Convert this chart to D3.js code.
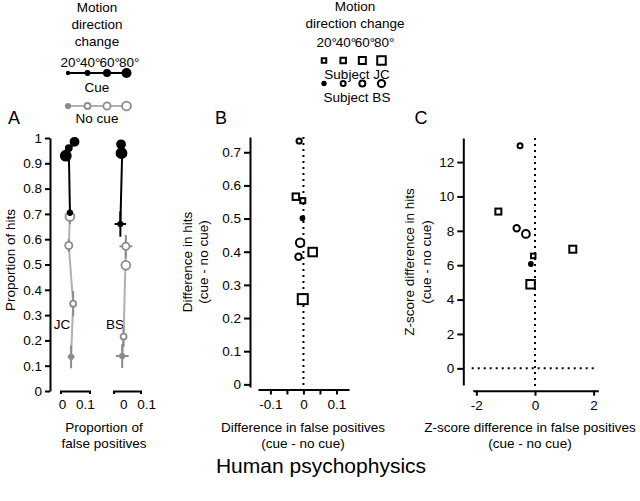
<!DOCTYPE html>
<html><head><meta charset="utf-8">
<script src="https://cdn.jsdelivr.net/npm/d3@7"></script>
<style>
body{margin:0;background:#fff}
text{font-family:"Liberation Sans",Arial,Helvetica,sans-serif;fill:#000}
</style>
</head><body>
<svg id="chart" width="640" height="501"></svg>
<script>
// ---------------- DATA ----------------
const degrees = [20, 40, 60, 80];
const degreeLabels = ["20°", "40°", "60°", "80°"];

// Panel A : proportion of false positives (x) and hits (y)
const jcCueFP = [0.035, 0.030, 0.055, 0.017];
const jcCueHit = [0.705, 0.960, 0.985, 0.930];
const jcCueFPErr = [0.012, 0.008, 0.008, 0.008];
const jcCueHitErr = [0.012, 0.010, 0.008, 0.012];
const jcNoCueFP = [0.040, 0.049, 0.030, 0.035];
const jcNoCueHit = [0.135, 0.345, 0.575, 0.690];
const jcNoCueFPErr = [0.015, 0.015, 0.010, 0.012];
const jcNoCueHitErr = [0.045, 0.050, 0.025, 0.030];

const bsCueFP = [-0.013, -0.005, -0.010, -0.008];
const bsCueHit = [0.660, 0.945, 0.975, 0.940];
const bsCueFPErr = [0.025, 0.008, 0.008, 0.008];
const bsCueHitErr = [0.050, 0.010, 0.008, 0.010];
const bsNoCueFP = [-0.005, 0.001, 0.011, 0.011];
const bsNoCueHit = [0.138, 0.215, 0.572, 0.497];
const bsNoCueFPErr = [0.028, 0.012, 0.028, 0.010];
const bsNoCueHitErr = [0.047, 0.040, 0.045, 0.020];

// Panel B : difference (cue - no cue)
const jcDiffFP = [-0.002, -0.023, 0.028, -0.002];
const jcDiffHit = [0.554, 0.566, 0.399, 0.257];
const bsDiffFP = [-0.003, -0.013, -0.015, -0.010];
const bsDiffHit = [0.501, 0.734, 0.385, 0.427];

// Panel C : z-score difference (cue - no cue)
const jcZFP = [-0.06, -1.25, 1.29, -0.15];
const jcZHit = [6.54, 9.12, 6.93, 4.89];
const bsZFP = [-0.14, -0.51, -0.625, -0.31];
const bsZHit = [6.07, 12.95, 8.15, 7.82];

// Tick values
const ticksAY = d3.range(0, 11).map(i => i / 10);
const ticksAX = [0, 0.1];
const ticksBY = [0, 0.1, 0.2, 0.3, 0.4, 0.5, 0.6, 0.7];
const ticksBX = [-0.1, -0.05, 0, 0.05, 0.1];
const labelsBX = [-0.1, 0, 0.1];
const ticksCY = [0, 2, 4, 6, 8, 10, 12];
const ticksCX = [-2, 0, 2];

// ---------------- STYLE ----------------
const FS = 13.5;
const BLACK = "#000";
const GREY_LINE = "#b0b0b0";
const GREY_MARK = "#8c8c8c";
const dotR = [2.2, 3.0, 4.0, 5.0];        // filled (cue) dot radii
const openR = [2.2, 3.0, 3.6, 4.4];       // open (no cue) circle radii
const legSq = [4.5, 5.5, 7, 8.5];         // legend squares
const legCirc = [1.7, 2.5, 3.0, 3.6];     // legend circles
const bSq = [5, 6.5, 8.5, 10];            // panel B squares
const bCirc = [1.9, 2.6, 3.2, 4.2];       // panel B circles
const cSq = [4.5, 6, 7, 8.5];             // panel C squares
const cCirc = [1.9, 2.5, 3.2, 3.9];       // panel C circles

const svg = d3.select("#chart");
svg.append("rect").attr("width", 640).attr("height", 501).attr("fill", "#fff");

function styleAxis(g) {
  g.selectAll("path.domain").attr("stroke", BLACK).attr("stroke-width", 2);
  g.selectAll(".tick line").attr("stroke", BLACK).attr("stroke-width", 2);
  g.selectAll(".tick text").attr("font-size", FS).attr("font-family", '"Liberation Sans",Arial,sans-serif').attr("fill", BLACK);
}
const fmt = d => (d === 0 ? "0" : d === 1 ? "1" : String(+d.toFixed(2)));
function label(g, x, y, t, size, rot) {
  const el = g.append("text").attr("text-anchor", "middle").attr("dominant-baseline", "central")
    .attr("font-size", size || FS).text(t);
  if (rot) el.attr("transform", `translate(${x},${y}) rotate(-90)`);
  else el.attr("x", x).attr("y", y);
  return el;
}

// ---------------- LEGEND LEFT ----------------
const legL = svg.append("g");
const legLX = d3.scalePoint().domain(degrees).range([68, 126.5]);
["Motion", "direction", "change"].forEach((t, i) => label(legL, 97, 7 + i * 17, t));
degrees.forEach((d, i) => legL.append("text").attr("x", legLX(d) - 7.5).attr("y", 62)
  .attr("dominant-baseline", "central").attr("font-size", FS).text(degreeLabels[i]));
legL.append("line").attr("x1", legLX(20)).attr("x2", legLX(80)).attr("y1", 73).attr("y2", 73)
  .attr("stroke", BLACK).attr("stroke-width", 2);
legL.selectAll("circle.cue").data(degrees).join("circle").attr("cx", d => legLX(d)).attr("cy", 73)
  .attr("r", (d, i) => dotR[i]).attr("fill", BLACK);
label(legL, 97, 87, "Cue");
legL.append("line").attr("x1", legLX(20)).attr("x2", legLX(80)).attr("y1", 106).attr("y2", 106)
  .attr("stroke", GREY_LINE).attr("stroke-width", 2);
legL.selectAll("circle.nc").data(degrees).join("circle").attr("class", "nc").attr("cx", d => legLX(d)).attr("cy", 106)
  .attr("r", (d, i) => openR[i]).attr("fill", (d, i) => i === 0 ? GREY_MARK : "#fff")
  .attr("stroke", GREY_MARK).attr("stroke-width", 1.8);
label(legL, 97, 118, "No cue");

// ---------------- LEGEND MIDDLE ----------------
const legM = svg.append("g");
const legMX = d3.scalePoint().domain(degrees).range([324, 381.5]);
label(legM, 355, 6, "Motion");
label(legM, 355, 23, "direction change");
degrees.forEach((d, i) => legM.append("text").attr("x", legMX(d) - 7.5).attr("y", 42)
  .attr("dominant-baseline", "central").attr("font-size", FS).text(degreeLabels[i]));
legM.selectAll("rect").data(degrees).join("rect")
  .attr("x", (d, i) => legMX(d) - legSq[i] / 2).attr("y", (d, i) => 60.5 - legSq[i] / 2)
  .attr("width", (d, i) => legSq[i]).attr("height", (d, i) => legSq[i])
  .attr("fill", "#fff").attr("stroke", BLACK).attr("stroke-width", 2);
label(legM, 357, 74.5, "Subject JC");
legM.selectAll("circle").data(degrees).join("circle").attr("cx", d => legMX(d)).attr("cy", 83.5)
  .attr("r", (d, i) => legCirc[i]).attr("fill", (d, i) => i === 0 ? BLACK : "#fff")
  .attr("stroke", BLACK).attr("stroke-width", 2);
label(legM, 357, 97, "Subject BS");

// ---------------- PANEL A ----------------
const A = svg.append("g");
label(A, 14, 118, "A", 18);
const yA = d3.scaleLinear().domain([0, 1]).range([391, 138]);
const xAjc = d3.scaleLinear().domain([-0.006, 0.12]).range([60.5, 89.5]);
const xAbs = d3.scaleLinear().domain([-0.043, 0.075]).range([113.5, 140.5]);

styleAxis(A.append("g").attr("transform", "translate(50,0)")
  .call(d3.axisLeft(yA).tickValues(ticksAY).tickFormat(fmt).tickSize(5).tickSizeOuter(0).tickPadding(3)));
[xAjc, xAbs].forEach(sx => {
  styleAxis(A.append("g").attr("transform", "translate(0,391)")
    .call(d3.axisBottom(sx).tickValues(ticksAX).tickFormat(fmt).tickSize(0).tickSizeOuter(3).tickPadding(8)));
});
label(A, 10, 260, "Proportion of hits", FS, true);
label(A, 104, 427, "Proportion of");
label(A, 104, 443, "false positives");
label(A, 62, 324, "JC");
label(A, 115, 324, "BS");

function drawSeries(sx, fp, hit, fpErr, hitErr, lineCol, markCol, filled, radii) {
  const pts = fp.map((f, i) => ({ x: sx(f), y: yA(hit[i]), ex: sx(f + fpErr[i]) - sx(f), ey: yA(hit[i] - hitErr[i]) - yA(hit[i]), r: radii[i], i }));
  A.append("path").datum(pts).attr("d", d3.line().x(d => d.x).y(d => d.y))
    .attr("fill", "none").attr("stroke", lineCol).attr("stroke-width", 2);
  const eb = A.append("g").attr("stroke", markCol).attr("stroke-width", 2);
  pts.forEach(p => {
    eb.append("line").attr("x1", p.x).attr("x2", p.x).attr("y1", p.y - p.ey).attr("y2", p.y + p.ey);
    eb.append("line").attr("x1", p.x - p.ex).attr("x2", p.x + p.ex).attr("y1", p.y).attr("y2", p.y);
  });
  A.append("g").selectAll("circle").data(pts).join("circle")
    .attr("cx", d => d.x).attr("cy", d => d.y).attr("r", d => d.r)
    .attr("fill", d => filled || d.i === 0 ? markCol : "#fff")
    .attr("stroke", markCol).attr("stroke-width", 1.8);
}
drawSeries(xAjc, jcNoCueFP, jcNoCueHit, jcNoCueFPErr, jcNoCueHitErr, GREY_LINE, GREY_MARK, false, openR);
drawSeries(xAjc, jcCueFP, jcCueHit, jcCueFPErr, jcCueHitErr, BLACK, BLACK, true, dotR);
drawSeries(xAbs, bsNoCueFP, bsNoCueHit, bsNoCueFPErr, bsNoCueHitErr, GREY_LINE, GREY_MARK, false, openR);
drawSeries(xAbs, bsCueFP, bsCueHit, bsCueFPErr, bsCueHitErr, BLACK, BLACK, true, dotR);

// ---------------- PANEL B ----------------
const B = svg.append("g");
label(B, 221, 118, "B", 18);
const yB = d3.scaleLinear().domain([-0.008, 0.746]).range([387, 137]);
const xB = d3.scaleLinear().domain([-0.1376, 0.138]).range([258, 349]);
styleAxis(B.append("g").attr("transform", "translate(250,0)")
  .call(d3.axisLeft(yB).tickValues(ticksBY).tickFormat(fmt).tickSize(6).tickSizeOuter(0).tickPadding(3)));
styleAxis(B.append("g").attr("transform", "translate(0,389.5)")
  .call(d3.axisBottom(xB).tickValues(ticksBX).tickFormat(d => labelsBX.includes(d) ? fmt(d) : "")
    .tickSize(5).tickSizeOuter(0).tickPadding(5)));
B.append("line").attr("x1", xB(0)).attr("x2", xB(0)).attr("y1", 137).attr("y2", 389)
  .attr("stroke", BLACK).attr("stroke-width", 2).attr("stroke-dasharray", "2,4");
label(B, 187, 262, "Difference in hits", FS, true);
label(B, 203, 262, "(cue - no cue)", FS, true);
label(B, 303, 427, "Difference in false positives");
label(B, 303, 443, "(cue - no cue)");

function drawScatter(g, sx, sy, jx, jy, bx, by, sq, cr) {
  g.append("g").selectAll("rect").data(degrees).join("rect")
    .attr("x", (d, i) => sx(jx[i]) - sq[i] / 2).attr("y", (d, i) => sy(jy[i]) - sq[i] / 2)
    .attr("width", (d, i) => sq[i]).attr("height", (d, i) => sq[i])
    .attr("fill", "#fff").attr("stroke", BLACK).attr("stroke-width", 2);
  g.append("g").selectAll("circle").data(degrees).join("circle")
    .attr("cx", (d, i) => sx(bx[i])).attr("cy", (d, i) => sy(by[i])).attr("r", (d, i) => cr[i])
    .attr("fill", (d, i) => i === 0 ? BLACK : "#fff").attr("stroke", BLACK).attr("stroke-width", 2);
}
drawScatter(B, xB, yB, jcDiffFP, jcDiffHit, bsDiffFP, bsDiffHit, bSq, bCirc);

// ---------------- PANEL C ----------------
const C = svg.append("g");
label(C, 421, 118, "C", 18);
const yC = d3.scaleLinear().domain([-0.97, 13.4]).range([385, 138]);
const xC = d3.scaleLinear().domain([-2.125, 2.16]).range([472.7, 598.3]);
styleAxis(C.append("g").attr("transform", "translate(463.3,0)")
  .call(d3.axisLeft(yC).tickValues(ticksCY).tickFormat(fmt).tickSize(6).tickSizeOuter(0).tickPadding(3)));
styleAxis(C.append("g").attr("transform", "translate(0,390.7)")
  .call(d3.axisBottom(xC).tickValues(ticksCX).tickFormat(fmt).tickSize(5).tickSizeOuter(0).tickPadding(5)));
C.append("line").attr("x1", xC(0)).attr("x2", xC(0)).attr("y1", 138).attr("y2", 390)
  .attr("stroke", BLACK).attr("stroke-width", 2).attr("stroke-dasharray", "2,4");
C.append("line").attr("x1", 471.7).attr("x2", 596.7).attr("y1", yC(0)).attr("y2", yC(0))
  .attr("stroke", BLACK).attr("stroke-width", 2).attr("stroke-dasharray", "2,4");
label(C, 409, 262, "Z-score difference in hits", FS, true);
label(C, 426, 262, "(cue - no cue)", FS, true);
label(C, 530, 427, "Z-score difference in false positives");
label(C, 530, 443, "(cue - no cue)");
drawScatter(C, xC, yC, jcZFP, jcZHit, bsZFP, bsZHit, cSq, cCirc);

// ---------------- TITLE ----------------
label(svg, 321, 465, "Human psychophysics", 21);
</script>
</body></html>
